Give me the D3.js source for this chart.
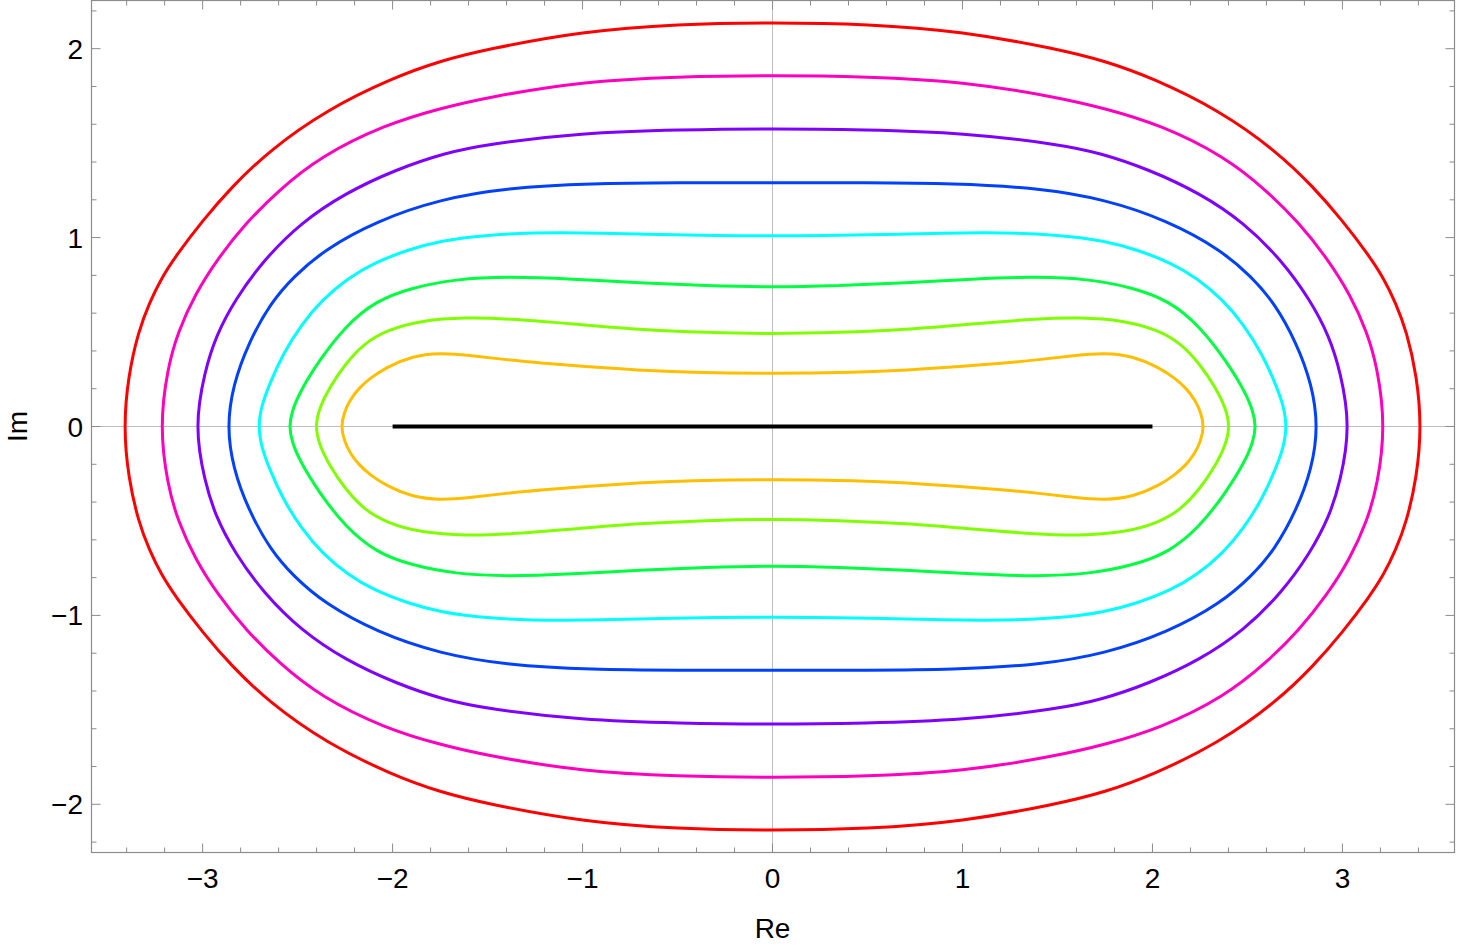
<!DOCTYPE html>
<meta charset="utf-8">
<style>
body { margin: 0; background: #fff; }
svg { display: block; }
text { font-family: "Liberation Sans", Arial, sans-serif; fill: #000; }
.frame { fill: none; stroke: #8c8c8c; stroke-width: 1.2px; }
.tick { stroke: #8c8c8c; stroke-width: 1px; }
.axisline { stroke: #bdbdbd; stroke-width: 1px; }
.level { fill: none; stroke-width: 3px; stroke-linejoin: round; }
.cut { stroke: #000; stroke-width: 4px; }
</style>
<svg width="1459" height="950"></svg>
<script src="https://d3js.org/d3.v7.min.js"></script>
<script>

// level curves, outer to inner; each list is the upper right quarter
// (Re >= 0, Im >= 0) from the top of the curve down to the real axis.
// The picture is symmetric about both axes.
var curveNames = ["red", "magenta", "purple", "blue", "cyan", "green", "yellowgreen", "orange"];
var curveColors = ["#ff0000", "#ff00bf", "#7f00ff", "#0040ff", "#00ffff", "#00ff40", "#80ff00", "#ffbf00"];

var redPts = [[0, 2.139], [0.5, 2.131], [1.0, 2.092], [1.5, 1.998], [1.75, 1.935], [2.0, 1.845],
  [2.35, 1.675], [2.65, 1.46], [2.85, 1.265], [3.0, 1.09], [3.14, 0.905], [3.22, 0.78],
  [3.28, 0.655], [3.338, 0.505], [3.392, 0.266], [3.416, 0]];
var magentaPts = [[0, 1.859], [0.5, 1.852], [1.0, 1.827], [1.5, 1.743], [1.75, 1.684], [2.04, 1.598],
  [2.38, 1.43], [2.6, 1.25], [2.77, 1.08], [2.92, 0.89], [3.04, 0.70], [3.13, 0.50],
  [3.185, 0.31], [3.226, 0]];
var purplePts = [[0, 1.577], [0.484, 1.571], [1.01, 1.554], [1.5, 1.495], [1.726, 1.448], [1.983, 1.36],
  [2.25, 1.235], [2.481, 1.08], [2.68, 0.88], [2.83, 0.67], [2.93, 0.48], [2.99, 0.29], [3.042, 0]];
var bluePts = [[0, 1.291], [0.5, 1.290], [0.95, 1.287], [1.4, 1.263], [1.75, 1.203], [2.08, 1.09],
  [2.358, 0.937], [2.52, 0.794], [2.642, 0.655], [2.76, 0.44], [2.84, 0.22], [2.872, 0]];
var cyanPts = [[0, 1.007], [0.6, 1.016], [1.15, 1.030], [1.5, 1.016], [1.75, 0.983], [1.92, 0.935],
  [2.1, 0.866], [2.235, 0.785], [2.37, 0.672], [2.48, 0.54], [2.58, 0.38], [2.65, 0.22],
  [2.69, 0.11], [2.708, 0]];
var greenPts = [[0, 0.737], [0.35, 0.746], [0.70, 0.760], [1.05, 0.781], [1.40, 0.794], [1.67, 0.780],
  [1.90, 0.735], [2.09, 0.665], [2.25, 0.53], [2.39, 0.345], [2.49, 0.18], [2.53, 0.08], [2.545, 0]];
var yellowgreenPts = [[0, 0.490], [0.35, 0.497], [0.70, 0.513], [1.05, 0.543], [1.40, 0.571], [1.61, 0.578],
  [1.85, 0.562], [2.03, 0.51], [2.15, 0.44], [2.25, 0.33], [2.33, 0.21], [2.385, 0.10], [2.408, 0]];
var orangePts = [[0, 0.280], [0.45, 0.287], [0.7, 0.298], [1.0, 0.318], [1.2, 0.334], [1.42, 0.355],
  [1.6, 0.378], [1.75, 0.390], [1.9, 0.372], [2.03, 0.315], [2.12, 0.255], [2.18, 0.20],
  [2.225, 0.14], [2.255, 0.075], [2.272, 0]];

var curves = [redPts, magentaPts, purplePts, bluePts, cyanPts, greenPts, yellowgreenPts, orangePts];

// branch cut on the real axis
var cutEnds = [-2, 2];

var xTicks = [-3, -2, -1, 0, 1, 2, 3];
var yTicks = [-2, -1, 0, 1, 2];

var svg = d3.select("svg");

var plotLeft = 91.5, plotRight = 1454.5, plotTop = 0.5, plotBottom = 852.5;

var x = d3.scaleLinear().domain([-3.585, 3.59]).range([plotLeft, plotRight]);
var y = d3.scaleLinear().domain([-2.255, 2.255]).range([plotBottom, plotTop]);

function label(d) { return d < 0 ? "\u2212" + (-d) : String(d); }

// axes through the origin
svg.append("line").attr("class", "axisline")
    .attr("x1", plotLeft).attr("x2", plotRight).attr("y1", y(0)).attr("y2", y(0));
svg.append("line").attr("class", "axisline")
    .attr("x1", x(0)).attr("x2", x(0)).attr("y1", plotTop).attr("y2", plotBottom);

// full closed loop from a quarter
function loop(q) {
  var pts = q.slice();
  var i;
  for (i = q.length - 2; i >= 0; i--) pts.push([q[i][0], -q[i][1]]);
  for (i = 1; i < q.length; i++) pts.push([-q[i][0], -q[i][1]]);
  for (i = q.length - 2; i >= 1; i--) pts.push([-q[i][0], q[i][1]]);
  return pts;
}

// b-spline evens out small reading errors
var line = d3.line()
    .x(function(d) { return x(d[0]); })
    .y(function(d) { return y(d[1]); })
    .curve(d3.curveBasisClosed);

svg.append("g")
  .selectAll("path")
  .data(curves)
  .enter().append("path")
    .attr("class", "level")
    .attr("stroke", function(d, i) { return curveColors[i]; })
    .attr("d", function(d) { return line(loop(d)); });

svg.append("line").attr("class", "cut")
    .attr("x1", x(cutEnds[0])).attr("x2", x(cutEnds[1]))
    .attr("y1", y(0)).attr("y2", y(0));

// frame with ticks on all four sides
svg.append("rect").attr("class", "frame")
    .attr("x", plotLeft).attr("y", plotTop)
    .attr("width", plotRight - plotLeft).attr("height", plotBottom - plotTop);

var xMinor = d3.range(-34, 35, 2).map(function(v) { return v / 10; })
    .filter(function(v) { return xTicks.indexOf(v) < 0; });
var yMinor = d3.range(-22, 23, 2).map(function(v) { return v / 10; })
    .filter(function(v) { return yTicks.indexOf(v) < 0; });

var ticks = svg.append("g");

function xTick(v, len) {
  ticks.append("line").attr("class", "tick")
      .attr("x1", x(v)).attr("x2", x(v)).attr("y1", plotBottom).attr("y2", plotBottom - len);
  ticks.append("line").attr("class", "tick")
      .attr("x1", x(v)).attr("x2", x(v)).attr("y1", plotTop).attr("y2", plotTop + len);
}
function yTick(v, len) {
  ticks.append("line").attr("class", "tick")
      .attr("x1", plotLeft).attr("x2", plotLeft + len).attr("y1", y(v)).attr("y2", y(v));
  ticks.append("line").attr("class", "tick")
      .attr("x1", plotRight).attr("x2", plotRight - len).attr("y1", y(v)).attr("y2", y(v));
}

xTicks.forEach(function(v) { xTick(v, 9); });
xMinor.forEach(function(v) { xTick(v, 5); });
yTicks.forEach(function(v) { yTick(v, 9); });
yMinor.forEach(function(v) { yTick(v, 5); });

svg.append("g")
  .selectAll("text")
  .data(xTicks)
  .enter().append("text")
    .attr("x", function(d) { return x(d); })
    .attr("y", 888)
    .attr("text-anchor", "middle")
    .style("font-size", "28px")
    .text(label);

svg.append("g")
  .selectAll("text")
  .data(yTicks)
  .enter().append("text")
    .attr("x", 83)
    .attr("y", function(d) { return y(d) + 10; })
    .attr("text-anchor", "end")
    .style("font-size", "28px")
    .text(label);

svg.append("text")
    .attr("x", x(0))
    .attr("y", 938)
    .attr("text-anchor", "middle")
    .style("font-size", "28px")
    .text("Re");

svg.append("text")
    .attr("transform", "translate(27," + y(0) + ") rotate(-90)")
    .attr("text-anchor", "middle")
    .style("font-size", "28px")
    .text("Im");

</script>
